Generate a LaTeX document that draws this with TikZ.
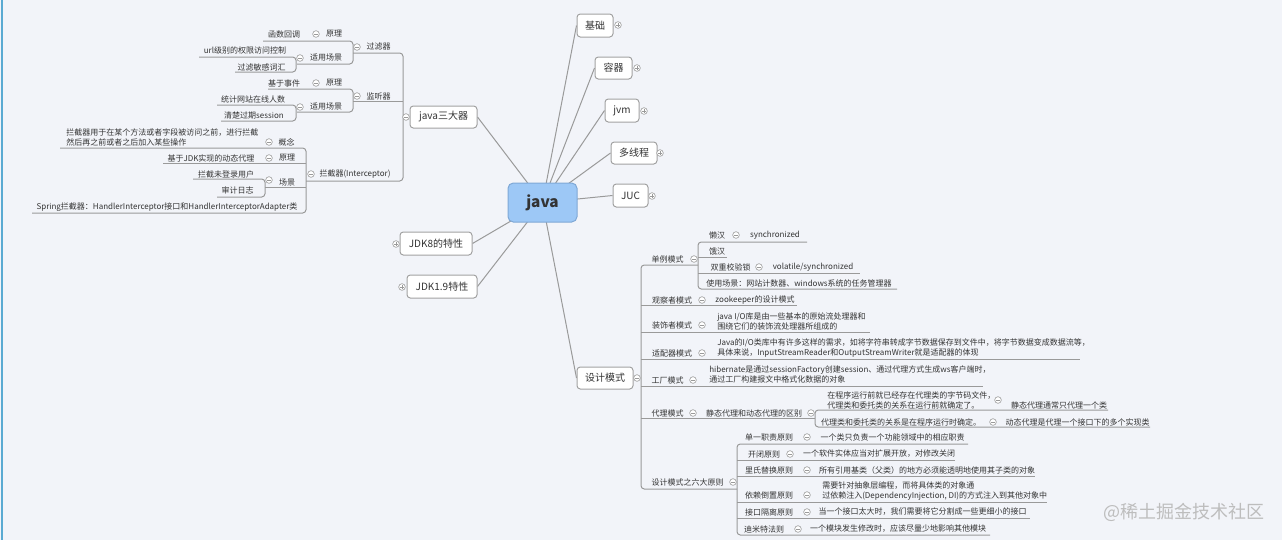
\documentclass[tikz,border=0pt]{standalone}
\usepackage{fontspec}
\setmainfont{Noto Sans CJK SC}
\pgfdeclarelayer{bg}
\pgfdeclarelayer{edges}
\pgfsetlayers{bg,edges,main}
\definecolor{bgc}{HTML}{F2F4F9}
\definecolor{linec}{HTML}{9A9A9A}
\definecolor{boxc}{HTML}{A2A2A2}
\definecolor{txt}{HTML}{333333}
\definecolor{javafill}{HTML}{9DC8F6}
\definecolor{javadraw}{HTML}{7FA8D6}
\definecolor{leftbar}{HTML}{5AAAD2}
\definecolor{wmc}{HTML}{BDBDBD}
\definecolor{circc}{HTML}{9A9A9A}
\tikzset{
  topic/.style={draw=boxc, fill=white, rounded corners=2.5pt, line width=0.75pt,
    font=\fontsize{7.5}{9}\selectfont, text=txt, inner sep=0pt},
  javabox/.style={draw=javadraw, fill=javafill, rounded corners=4pt, line width=0.75pt,
    minimum width=51.75pt, minimum height=29.25pt, text=txt,
    font=\fontsize{11.5}{13}\selectfont\bfseries},
  lab/.style={font=\fontsize{6}{7.5}\selectfont, text=txt, inner sep=0pt},
  mlab/.style={lab, align=left, anchor=west},
  mc/.style={circle, draw=circc, fill=white, line width=0.45pt, minimum size=5pt, inner sep=0pt,
    path picture={\draw[circc, line width=0.5pt] ([xshift=-1.5pt]path picture bounding box.center) -- ([xshift=1.5pt]path picture bounding box.center);}},
  pc/.style={circle, draw=circc, fill=white, line width=0.45pt, minimum size=5pt, inner sep=0pt,
    path picture={\draw[circc, line width=0.5pt] ([xshift=-1.5pt]path picture bounding box.center) -- ([xshift=1.5pt]path picture bounding box.center)
      ([yshift=-1.5pt]path picture bounding box.center) -- ([yshift=1.5pt]path picture bounding box.center);}},
  conn/.style={draw=linec, line width=0.75pt},
  ul/.style={draw=linec, line width=0.75pt, rounded corners=2.5pt},
}
\begin{document}
\begin{tikzpicture}[x=0.75pt,y=-0.75pt]
\begin{pgfonlayer}{bg}
\fill[bgc] (0,0) rectangle (1282,540);
\fill[leftbar] (0.6,0) rectangle (2.8,540);
\end{pgfonlayer}
\useasboundingbox (0,0) rectangle (1282,540);

% central and main topics
\node[javabox] (java) at (542.5,202.5) {java};
\node[topic, minimum width=27pt, minimum height=17.25pt] (jc) at (595,25.5) {基础};
\node[topic, minimum width=27.75pt, minimum height=16.5pt] (rq) at (613.5,68) {容器};
\node[topic, minimum width=25.5pt, minimum height=17.25pt] (jvm) at (622,110.5) {jvm};
\node[topic, minimum width=34.5pt, minimum height=16.5pt] (dxc) at (634,153) {多线程};
\node[topic, minimum width=26.25pt, minimum height=17.25pt] (juc) at (630.5,195.5) {JUC};
\node[topic, minimum width=50.25pt, minimum height=16.5pt] (sdq) at (443.5,117) {java三大器};
\node[topic, minimum width=54pt, minimum height=17.25pt] (jdk8) at (436,243.5) {JDK8的特性};
\node[topic, minimum width=52.5pt, minimum height=17.25pt] (jdk9) at (442,286.5) {JDK1.9特性};
\node[topic, minimum width=42pt, minimum height=16.5pt] (sjms) at (605,378) {设计模式};

\node[pc] (jcp) at (618,25) {};
\node[pc] (rqp) at (637,68) {};
\node[pc] (jvmp) at (644,111) {};
\node[pc] (dxcp) at (660,153) {};
\node[pc] (jucp) at (652,196) {};
\node[pc] (jdk8p) at (396,244) {};
\node[pc] (jdk9p) at (402,287) {};

\begin{pgfonlayer}{edges}
\draw[conn] (java.center) -- (jc.west);
\draw[conn] (java.center) -- (rq.west);
\draw[conn] (java.center) -- (jvm.west);
\draw[conn] (java.center) -- (dxc.west);
\draw[conn] (java.center) -- (juc.west);
\draw[conn] (java.center) -- (sdq.east);
\draw[conn] (java.center) -- (jdk8.east);
\draw[conn] (java.center) -- (jdk9.east);
\draw[conn] (java.center) -- (sjms.west);

% ---- left tree lines
\draw[ul] (353,53) -- (403,53) -- (403,181) -- (306,181);
\draw[ul] (353,101) -- (403,101);
\draw[ul] (263,41) -- (353,41) -- (353,64) -- (297,64);
\draw[ul] (199,57) -- (296,57) -- (296,72) -- (235,72);
\draw[ul] (268,89) -- (353,89) -- (353,112) -- (297,112);
\draw[ul] (217,105) -- (296,105) -- (296,121) -- (221,121);
\draw[ul] (60,148) -- (306,148) -- (306,213) -- (32,213);
\draw[ul] (163,163) -- (306,163);
\draw[ul] (265,187) -- (306,187);
\draw[ul] (193,179) -- (265,179) -- (265,197) -- (217,197);

% ---- right tree lines
\draw[ul] (698,265) -- (641,265) -- (641,489) -- (737,489);
\draw[ul] (641,305) -- (797,305);
\draw[ul] (641,332) -- (870,332);
\draw[ul] (641,359) -- (1080,359);
\draw[ul] (641,386) -- (983,386);
\draw[ul] (641,418) -- (815,418);
\draw[ul] (807,242) -- (698,242) -- (698,289) -- (897,289);
\draw[ul] (698,257) -- (727,257);
\draw[ul] (698,273) -- (860,273);
\draw[ul] (1108,410) -- (815,410) -- (815,427) -- (1150,427);
\draw[ul] (968,444) -- (737,444) -- (737,535) -- (990,535);
\draw[ul] (737,460) -- (955,460);
\draw[ul] (737,476) -- (1035,476);
\draw[ul] (737,502) -- (1047,502);
\draw[ul] (737,518) -- (1030,518);
\end{pgfonlayer}

\node[mc] (sdqm) at (406,117) {};
\node[mc] (sjmsm) at (637,378) {};

% ---- left tree labels
\node[lab] (glq) at (378.5,46) {过滤器};
\node[mc] (glqm) at (357,47) {};
\node[lab] (glqy) at (334,34) {原理};
\node[mc] (glqym) at (316,34) {};
\node[lab] (hshd) at (284,34) {函数回调};
\node[lab] (glqc) at (326,58) {适用场景};
\node[mc] (glqcm) at (300,58) {};
\node[lab] (url) at (245,50) {url级别的权限访问控制};
\node[lab] (mgc) at (261.5,67) {过滤敏感词汇};

\node[lab] (jtq) at (378.5,96) {监听器};
\node[mc] (jtqm) at (357,96) {};
\node[lab] (jtqy) at (334,83) {原理};
\node[mc] (jtqym) at (316,83) {};
\node[lab] (jysj) at (284,83) {基于事件};
\node[lab] (jtqc) at (326,107) {适用场景};
\node[mc] (jtqcm) at (300,107) {};
\node[lab] (tj) at (253,99) {统计网站在线人数};
\node[lab] (qc) at (254,115) {清楚过期session};

\node[lab] (ljq) at (355,174) {拦截器(Interceptor)};
\node[mc] (ljqm) at (311,174) {};
\node[lab] (gn) at (286.5,142) {概念};
\node[mc] (gnm) at (269,142) {};
\node[mlab] (gnt) at (66,137) {拦截器用于在某个方法或者字段被访问之前，进行拦截\\然后再之前或者之后加入某些操作};
\node[lab] (ljqy) at (287,158) {原理};
\node[mc] (ljqym) at (269,158) {};
\node[lab] (jdkdl) at (211,158) {基于JDK实现的动态代理};
\node[lab] (cj) at (287,183) {场景};
\node[mc] (cjm) at (269,180) {};
\node[lab] (wdl) at (226,174) {拦截未登录用户};
\node[lab] (sjrz) at (237.5,190) {审计日志};
\node[lab] (spr) at (167,207) {Spring拦截器：HandlerInterceptor接口和HandlerInterceptorAdapter类};

% ---- right tree labels
\node[lab] (dl) at (667.5,259) {单例模式};
\node[mc] (dlm) at (694,259) {};
\node[lab] (lh) at (717,235) {懒汉};
\node[mc] (lhm) at (736,235) {};
\node[lab] (syn) at (775,235) {synchronized};
\node[lab] (eh) at (717,251) {饿汉};
\node[lab] (scjys) at (730.5,267) {双重校验锁};
\node[mc] (scjysm) at (759,267) {};
\node[lab] (vs) at (813,267) {volatile/synchronized};
\node[lab] (sycj) at (799,283) {使用场景：网站计数器、windows系统的任务管理器};

\node[lab] (gcz) at (672,300) {观察者模式};
\node[mc] (gczm) at (702,300) {};
\node[lab] (zk) at (755,300) {zookeeper的设计模式};
\node[lab] (zsz) at (672,325) {装饰者模式};
\node[mc] (zszm) at (702,325) {};
\node[mlab] (zszt) at (717,321) {java I/O库是由一些基本的原始流处理器和\\围绕它们的装饰流处理器所组成的};
\node[lab] (spq) at (672,353) {适配器模式};
\node[mc] (spqm) at (702,353) {};
\node[mlab] (spqt) at (717,348) {Java的I/O类库中有许多这样的需求，如将字符串转成字节数据保存到文件中，将字节数据变成数据流等，\\具体来说，InputStreamReader和OutputStreamWriter就是适配器的体现};
\node[lab] (gcms) at (667.5,380) {工厂模式};
\node[mc] (gcmsm) at (693,380) {};
\node[mlab] (gct) at (709,374.5) {hibernate是通过sessionFactory创建session、通过代理方式生成ws客户端时，\\通过工厂构建报文中格式化数据的对象};
\node[lab] (dlms) at (667.5,413) {代理模式};
\node[mc] (dlmsm) at (693,413) {};
\node[lab] (qb) at (754,413) {静态代理和动态代理的区别};
\node[mc] (qbm) at (811,413) {};
\node[mlab] (jtdl) at (827,400) {在程序运行前就已经存在代理类的字节码文件，\\代理类和委托类的关系在运行前就确定了。};
\node[mc] (jtdlm) at (998,400) {};
\node[lab] (jtt) at (1059,405) {静态代理通常只代理一个类};
\node[lab] (dtdl) at (901,422) {代理类和委托类的关系是在程序运行时确定。};
\node[mc] (dtdlm) at (993,422) {};
\node[lab] (dtt) at (1077.5,422) {动态代理是代理一个接口下的多个实现类};

\node[lab] (ldyz) at (687.5,482) {设计模式之六大原则};
\node[mc] (ldyzm) at (733,482) {};
\node[lab] (dyzz) at (769,437) {单一职责原则};
\node[mc] (dyzzm) at (807,437) {};
\node[lab] (dyzzt) at (892.5,437) {一个类只负责一个功能领域中的相应职责};
\node[lab] (kb) at (764,454) {开闭原则};
\node[mc] (kbm) at (790,454) {};
\node[lab] (kbt) at (879,454) {一个软件实体应当对扩展开放，对修改关闭};
\node[lab] (lsth) at (769,470) {里氏替换原则};
\node[mc] (lsthm) at (807,470) {};
\node[lab] (lstht) at (927,470) {所有引用基类（父类）的地方必须能透明地使用其子类的对象};
\node[lab] (ylda) at (769,495) {依赖倒置原则};
\node[mc] (yldam) at (807,495) {};
\node[mlab] (yldat) at (822,491) {需要针对抽象层编程，而将具体类的对象通\\过依赖注入(DependencyInjection, DI)的方式注入到其他对象中};
\node[lab] (jkgl) at (769,512) {接口隔离原则};
\node[mc] (jkglm) at (807,512) {};
\node[lab] (jkglt) at (922.5,512) {当一个接口太大时，我们需要将它分割成一些更细小的接口};
\node[lab] (dmt) at (764,529) {迪米特法则};
\node[mc] (dmtm) at (798,529) {};
\node[lab] (dmtt) at (898,529) {一个模块发生修改时，应该尽量少地影响其他模块};

\node[font=\fontsize{13.5}{15}\selectfont, text=wmc, inner sep=0pt] (wm) at (1184,512) {@稀土掘金技术社区};
\end{tikzpicture}
\end{document}
